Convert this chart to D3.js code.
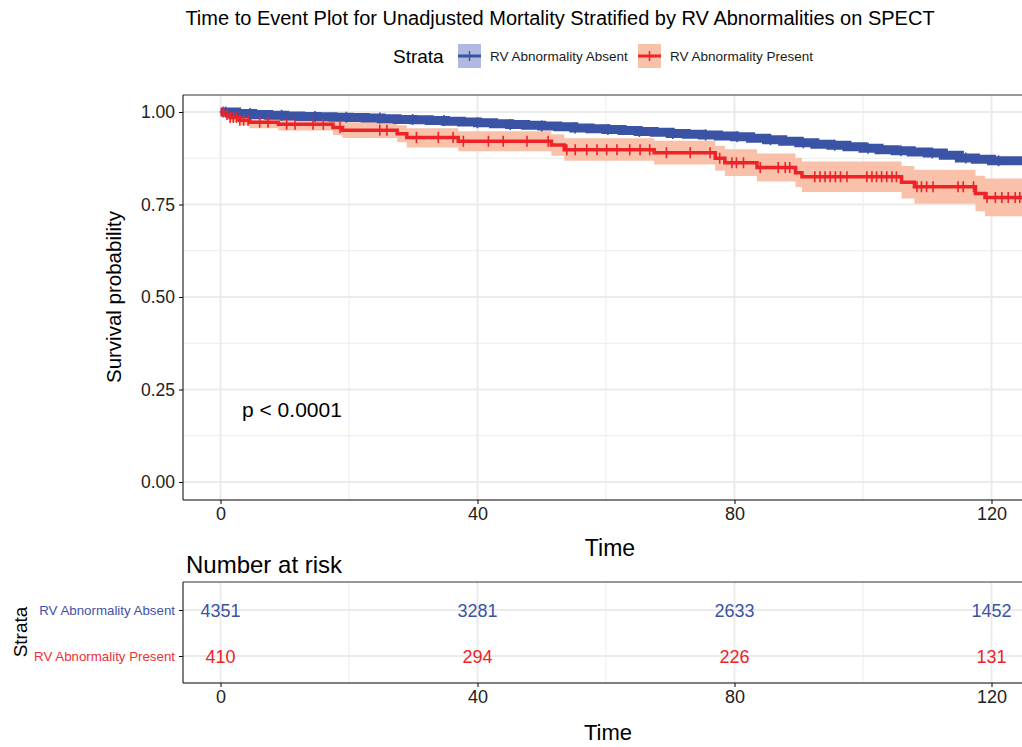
<!DOCTYPE html>
<html>
<head>
<meta charset="utf-8">
<script src="https://cdn.jsdelivr.net/npm/d3@7"></script>
<style>
  body { margin: 0; background: #fff; }
  svg { font-family: "Liberation Sans", Arial, sans-serif; }
</style>
</head>
<body>
<svg id="chart" width="1022" height="747"></svg>
<script>
// ---- data ----
const strata = ["RV Abnormality Absent", "RV Abnormality Present"];
const xTicks = [0, 40, 80, 120];
const xMinor = [20, 60, 100];
const yTicks = [0, 0.25, 0.5, 0.75, 1];
const yMinor = [0.125, 0.375, 0.625, 0.875];

const absentTime  = [0, 2.5, 5, 7.5, 10, 12.5, 15, 17.5, 20, 22.5, 25, 27.5, 30, 32.5, 35, 37.5, 40, 42.5, 45, 47.5, 50, 52.5, 55, 57.5, 60,
  62.5, 65, 67.5, 70, 72.5, 75, 77.5, 80, 82.5, 85, 87.5, 90, 92.5, 95, 97.5, 100, 102.5, 105, 107.5, 110, 112.5, 115, 117.5, 120, 125];
const absentSurv  = [1.000, 0.996, 0.993, 0.991, 0.989, 0.988, 0.987, 0.986, 0.985, 0.984, 0.982, 0.980, 0.979, 0.977, 0.975, 0.973, 0.971, 0.968, 0.966, 0.964, 0.962, 0.960, 0.957, 0.955, 0.953,
  0.950, 0.947, 0.945, 0.942, 0.940, 0.938, 0.935, 0.933, 0.929, 0.925, 0.921, 0.917, 0.913, 0.910, 0.906, 0.902, 0.898, 0.895, 0.892, 0.889, 0.883, 0.876, 0.872, 0.868, 0.864];
// half-width of the 95% band around the absent curve
const absentHalf  = [0, 0.002, 0.002, 0.003, 0.003, 0.003, 0.003, 0.003, 0.003, 0.004, 0.004, 0.004, 0.004, 0.004, 0.004, 0.004, 0.004, 0.005, 0.005, 0.005, 0.005, 0.005, 0.005, 0.005, 0.005,
  0.005, 0.006, 0.006, 0.006, 0.006, 0.006, 0.006, 0.006, 0.007, 0.007, 0.007, 0.007, 0.008, 0.008, 0.008, 0.008, 0.008, 0.009, 0.009, 0.009, 0.009, 0.009, 0.010, 0.010, 0.010];

const presentTime  = [0, 0.5, 1.5, 3, 4.5, 9, 17.5, 19, 27.5, 29, 37, 51.5, 53.5, 67.5, 77, 78.5, 83.5, 89.5, 90.5, 106, 108, 117.5, 119, 125];
const presentSurv  = [1.000, 0.993, 0.985, 0.978, 0.972, 0.967, 0.958, 0.951, 0.941, 0.931, 0.921, 0.911, 0.898, 0.890, 0.875, 0.863, 0.850, 0.836, 0.825, 0.810, 0.798, 0.780, 0.769, 0.769];
const presentLower = [1.000, 0.985, 0.973, 0.964, 0.956, 0.950, 0.938, 0.930, 0.918, 0.904, 0.894, 0.882, 0.868, 0.858, 0.841, 0.827, 0.812, 0.797, 0.784, 0.766, 0.752, 0.732, 0.718, 0.718];
const presentUpper = [1.000, 1.000, 0.997, 0.992, 0.988, 0.985, 0.978, 0.972, 0.964, 0.956, 0.948, 0.940, 0.929, 0.922, 0.909, 0.899, 0.888, 0.876, 0.866, 0.854, 0.844, 0.828, 0.820, 0.820];

const presentCensor = [0.4, 1.0, 1.5, 2.0, 2.5, 3.0, 3.6, 4.3, 6.1, 7.4, 10.3, 11.6, 14.4, 16.0, 18.6, 24.8, 25.9, 30.5, 33.9, 36.2, 37.8,
  41.7, 44.0, 47.7, 51.0, 53.9, 55.2, 57.0, 58.6, 60.1, 61.7, 63.7, 65.3, 66.8, 69.4, 73.1, 76.2, 77.7, 79.6, 80.3, 81.4,
  84.0, 86.8, 87.9, 88.6, 92.5, 93.3, 94.1, 94.9, 95.7, 96.5, 97.5, 100.6, 101.4, 102.1, 102.9, 103.7, 104.5, 105.2,
  108.4, 109.1, 109.9, 110.9, 114.8, 115.6, 117.2, 119.3, 120.6, 121.6, 122.6, 123.7, 124.4];
const absentCensor = [0.8, 4.6, 9.5, 14.7, 19.6, 24.8, 29.9, 34.8, 40.0, 45.1, 50.0, 55.2, 60.3, 65.2, 70.4, 75.5, 80.4, 85.6, 90.7, 95.6, 100.8, 105.9, 110.8, 116.0, 121.1];

const riskTimes = [0, 40, 80, 120];
const riskAbsent = [4351, 3281, 2633, 1452];
const riskPresent = [410, 294, 226, 131];

// ---- styles ----
const blue = "#3A53A4", red = "#EE2227";
const blueFill = "#B2B9E0", redFill = "#F9C1A9";
const grid = "#EBEBEB";

const svg = d3.select("#chart");

// main panel
const P = { left: 183, top: 95, right: 1026, bottom: 500 };
const x = d3.scaleLinear().domain([0, 120]).range([220.5, 991.5]);
const y = d3.scaleLinear().domain([0, 1]).range([482, 112]);

// title
svg.append("text")
  .attr("x", 560).attr("y", 25)
  .attr("text-anchor", "middle")
  .style("font-size", "20px")
  .text("Time to Event Plot for Unadjusted Mortality Stratified by RV Abnormalities on SPECT");

// legend
const leg = svg.append("g");
leg.append("text").attr("x", 393).attr("y", 63).style("font-size", "19px").text("Strata");
const legItems = [
  { x: 458, tx: 490, line: blue, fill: blueFill, label: strata[0] },
  { x: 638, tx: 670, line: red, fill: redFill, label: strata[1] }
];
legItems.forEach(d => {
  leg.append("rect").attr("x", d.x).attr("y", 44).attr("width", 23).attr("height", 24).attr("fill", d.fill);
  leg.append("line").attr("x1", d.x).attr("x2", d.x + 23).attr("y1", 56).attr("y2", 56)
    .attr("stroke", d.line).attr("stroke-width", 3);
  leg.append("line").attr("x1", d.x + 11.5).attr("x2", d.x + 11.5).attr("y1", 51).attr("y2", 61)
    .attr("stroke", d.line).attr("stroke-width", 1.5);
  leg.append("text").attr("x", d.tx).attr("y", 61).style("font-size", "13.5px").attr("fill", "#1a1a1a").text(d.label);
});

// gridlines
const g = svg.append("g");
g.selectAll(".vmin").data(xMinor).enter().append("line")
  .attr("x1", d => x(d)).attr("x2", d => x(d)).attr("y1", P.top).attr("y2", P.bottom)
  .attr("stroke", grid).attr("stroke-width", 1);
g.selectAll(".hmin").data(yMinor).enter().append("line")
  .attr("x1", P.left).attr("x2", P.right).attr("y1", d => y(d)).attr("y2", d => y(d))
  .attr("stroke", grid).attr("stroke-width", 1);
g.selectAll(".vmaj").data(xTicks).enter().append("line")
  .attr("x1", d => x(d)).attr("x2", d => x(d)).attr("y1", P.top).attr("y2", P.bottom)
  .attr("stroke", grid).attr("stroke-width", 2);
g.selectAll(".hmaj").data(yTicks).enter().append("line")
  .attr("x1", P.left).attr("x2", P.right).attr("y1", d => y(d)).attr("y2", d => y(d))
  .attr("stroke", grid).attr("stroke-width", 2);

// curves
const absent = absentTime.map((t, i) => ({ t, s: absentSurv[i], lo: absentSurv[i] - absentHalf[i], hi: absentSurv[i] + absentHalf[i] }));
const present = presentTime.map((t, i) => ({ t, s: presentSurv[i], lo: presentLower[i], hi: presentUpper[i] }));

const area = d3.area().curve(d3.curveStepAfter)
  .x(d => x(d.t)).y0(d => y(d.lo)).y1(d => y(d.hi));
const line = d3.line().curve(d3.curveStepAfter)
  .x(d => x(d.t)).y(d => y(d.s));

const curves = svg.append("g");
curves.append("path").attr("d", area(present)).attr("fill", redFill);
curves.append("path").attr("d", area(absent)).attr("fill", blueFill);

// dense censoring on the absent curve reads as a thick band
curves.append("path").attr("d", line(absent)).attr("fill", "none")
  .attr("stroke", blue).attr("stroke-width", 9);
curves.append("path").attr("d", line(present)).attr("fill", "none")
  .attr("stroke", red).attr("stroke-width", 3.5);

const bis = d3.bisector(d => d).right;
function survAt(times, surv, t) { return surv[Math.max(0, bis(times, t) - 1)]; }
function cross(px, py, w, h) { return `M${px - w},${py}h${2 * w}M${px},${py - h}v${2 * h}`; }

curves.selectAll(".cb").data(absentCensor).enter().append("path")
  .attr("d", t => cross(x(t), y(survAt(absentTime, absentSurv, t)), 4, 5.5))
  .attr("stroke", blue).attr("stroke-width", 1.6).attr("fill", "none");
curves.selectAll(".cr").data(presentCensor).enter().append("path")
  .attr("d", t => cross(x(t), y(survAt(presentTime, presentSurv, t)), 3.5, 5.5))
  .attr("stroke", red).attr("stroke-width", 1.6).attr("fill", "none");

// panel border + axes
svg.append("line").attr("x1", P.left).attr("x2", P.right).attr("y1", P.top).attr("y2", P.top)
  .attr("stroke", "#333").attr("stroke-width", 1);
svg.append("g").attr("transform", `translate(${P.left},0)`)
  .call(d3.axisLeft(y).tickValues(yTicks).tickFormat(d3.format(".2f")).tickSize(4).tickSizeOuter(0))
  .call(a => a.select(".domain").attr("d", `M0,${P.top}V${P.bottom}`).attr("stroke", "#000"))
  .call(a => a.selectAll("text").style("font-size", "17.5px").attr("fill", "#222").attr("dx", "-1"));
svg.append("g").attr("transform", `translate(0,${P.bottom})`)
  .call(d3.axisBottom(x).tickValues(xTicks).tickSize(4).tickSizeOuter(0))
  .call(a => a.select(".domain").attr("d", `M${P.left},0H${P.right}`).attr("stroke", "#000"))
  .call(a => a.selectAll("text").style("font-size", "18px").attr("fill", "#222"));

svg.append("text")
  .attr("transform", "translate(121,297) rotate(-90)")
  .attr("text-anchor", "middle")
  .style("font-size", "20.5px")
  .text("Survival probability");
svg.append("text").attr("x", 610).attr("y", 556).attr("text-anchor", "middle")
  .style("font-size", "23px").text("Time");
svg.append("text").attr("x", 242).attr("y", 417).style("font-size", "21px").text("p < 0.0001");

// ---- risk table ----
const R = { left: 183, top: 582, right: 1026, bottom: 683 };
const ry = d3.scalePoint().domain(strata).range([610, 656]);

svg.append("text").attr("x", 186).attr("y", 573).style("font-size", "24px").text("Number at risk");

const rt = svg.append("g");
rt.selectAll(".rvmin").data(xMinor).enter().append("line")
  .attr("x1", d => x(d)).attr("x2", d => x(d)).attr("y1", R.top).attr("y2", R.bottom)
  .attr("stroke", grid).attr("stroke-width", 1);
rt.selectAll(".rvmaj").data(xTicks).enter().append("line")
  .attr("x1", d => x(d)).attr("x2", d => x(d)).attr("y1", R.top).attr("y2", R.bottom)
  .attr("stroke", grid).attr("stroke-width", 2);
rt.selectAll(".rh").data(strata).enter().append("line")
  .attr("x1", R.left).attr("x2", R.right).attr("y1", d => ry(d)).attr("y2", d => ry(d))
  .attr("stroke", grid).attr("stroke-width", 2);

const rows = [
  { name: strata[0], vals: riskAbsent, color: blue },
  { name: strata[1], vals: riskPresent, color: red }
];
rows.forEach(r => {
  rt.selectAll(null).data(riskTimes).enter().append("text")
    .attr("x", d => x(d)).attr("y", ry(r.name) + 6.5)
    .attr("text-anchor", "middle").style("font-size", "18px").attr("fill", r.color)
    .text((d, i) => r.vals[i]);
});

svg.append("line").attr("x1", R.left).attr("x2", R.right).attr("y1", R.top).attr("y2", R.top)
  .attr("stroke", "#333").attr("stroke-width", 1);
svg.append("g").attr("transform", `translate(${R.left},0)`)
  .call(d3.axisLeft(ry).tickSize(4).tickSizeOuter(0))
  .call(a => a.select(".domain").attr("d", `M0,${R.top}V${R.bottom}`).attr("stroke", "#000"))
  .call(a => a.selectAll("text").style("font-size", "13.3px").attr("dx", "-1")
    .attr("fill", d => d === strata[0] ? "#4152A8" : "#EE2F33"));
svg.append("g").attr("transform", `translate(0,${R.bottom})`)
  .call(d3.axisBottom(x).tickValues(xTicks).tickSize(4).tickSizeOuter(0))
  .call(a => a.select(".domain").attr("d", `M${R.left},0H${R.right}`).attr("stroke", "#000"))
  .call(a => a.selectAll("text").style("font-size", "18px").attr("fill", "#222"));

svg.append("text").attr("transform", "translate(27,632) rotate(-90)").attr("text-anchor", "middle")
  .style("font-size", "19px").text("Strata");
svg.append("text").attr("x", 608).attr("y", 740).attr("text-anchor", "middle")
  .style("font-size", "22px").text("Time");
</script>
</body>
</html>
